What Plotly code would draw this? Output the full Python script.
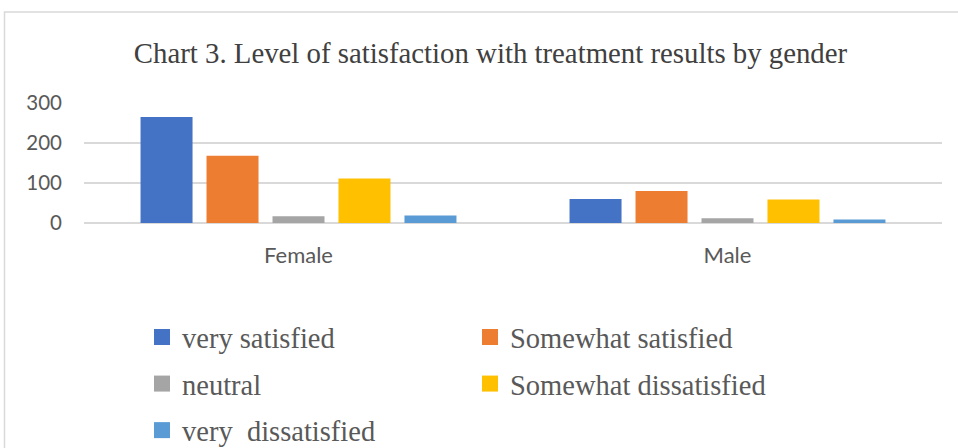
import plotly.graph_objects as go

categories = ["Female", "Male"]
series_names = ["very satisfied", "Somewhat satisfied", "neutral",
                "Somewhat dissatisfied", "very\u00a0 dissatisfied"]
very_satisfied = [265, 60]
somewhat_satisfied = [168, 80]
neutral = [17, 12]
somewhat_dissatisfied = [111, 59]
very_dissatisfied = [19, 9]
y_ticks = [0, 100, 200, 300]

series_values = [very_satisfied, somewhat_satisfied, neutral,
                 somewhat_dissatisfied, very_dissatisfied]
colors = ["#4472C4", "#ED7D31", "#A5A5A5", "#FFC000", "#5B9BD5"]
legend_ids = ["legend", "legend2", "legend", "legend2", "legend"]

fig = go.Figure()
for i, (name, vals) in enumerate(zip(series_names, series_values)):
    fig.add_trace(go.Bar(
        x=categories, y=vals, name=name,
        marker=dict(color=colors[i], line=dict(width=0)),
        showlegend=False, legendgroup="g%d" % i,
        hoverinfo="name+y",
    ))
# legend-only entries (larger square swatches, like the original legend)
for i, name in enumerate(series_names):
    fig.add_trace(go.Scatter(
        x=[None], y=[None], mode="markers", name=name,
        marker=dict(symbol="square", size=16, color=colors[i]),
        legend=legend_ids[i], legendgroup="g%d" % i, showlegend=True,
    ))

legend_font = dict(family="Liberation Serif", size=28.5, color="#595959")
fig.update_layout(
    width=958, height=448,
    paper_bgcolor="white", plot_bgcolor="white",
    margin=dict(l=84, r=16, t=103, b=225, autoexpand=False),
    barmode="group", bargap=0.231, bargroupgap=0.212,
    title=dict(text="Chart 3. Level of satisfaction with treatment results by gender",
               font=dict(family="Liberation Serif", size=28.8, color="#404040"),
               x=490.5 / 958, xanchor="center", xref="container",
               y=1 - 53 / 448, yanchor="middle", yref="container"),
    xaxis=dict(showgrid=False, showline=False, ticks="",
               tickfont=dict(family="Lato", size=22, color="#595959"),
               ticklabelstandoff=17),
    yaxis=dict(range=[0, 300], tickvals=y_ticks, showgrid=True,
               gridcolor="#D9D9D9", gridwidth=1.5,
               zeroline=True, zerolinecolor="#D9D9D9", zerolinewidth=1.5,
               showline=False, ticks="",
               tickfont=dict(family="Lato", size=20.5, color="#595959"),
               ticklabelstandoff=21),
    legend=dict(orientation="v", xref="container", yref="container",
                x=142 / 958, xanchor="left", y=1 - 312 / 448, yanchor="top",
                font=legend_font, tracegroupgap=6.5, bgcolor="rgba(0,0,0,0)",
                itemsizing="trace"),
    legend2=dict(orientation="v", xref="container", yref="container",
                 x=470 / 958, xanchor="left", y=1 - 312 / 448, yanchor="top",
                 font=legend_font, tracegroupgap=6.5, bgcolor="rgba(0,0,0,0)",
                 itemsizing="trace"),
    shapes=[dict(type="rect", xref="paper", yref="paper",
                 x0=(4.5 - 84) / 858, x1=(965 - 84) / 858,
                 y0=(223 - 460) / 120, y1=(223 - 12) / 120,
                 line=dict(color="#D9D9D9", width=1.5), layer="below")],
)

fig.write_html("out.html", config={"displayModeBar": False},
               post_script="document.body.style.margin='0';document.body.style.padding='0';")
